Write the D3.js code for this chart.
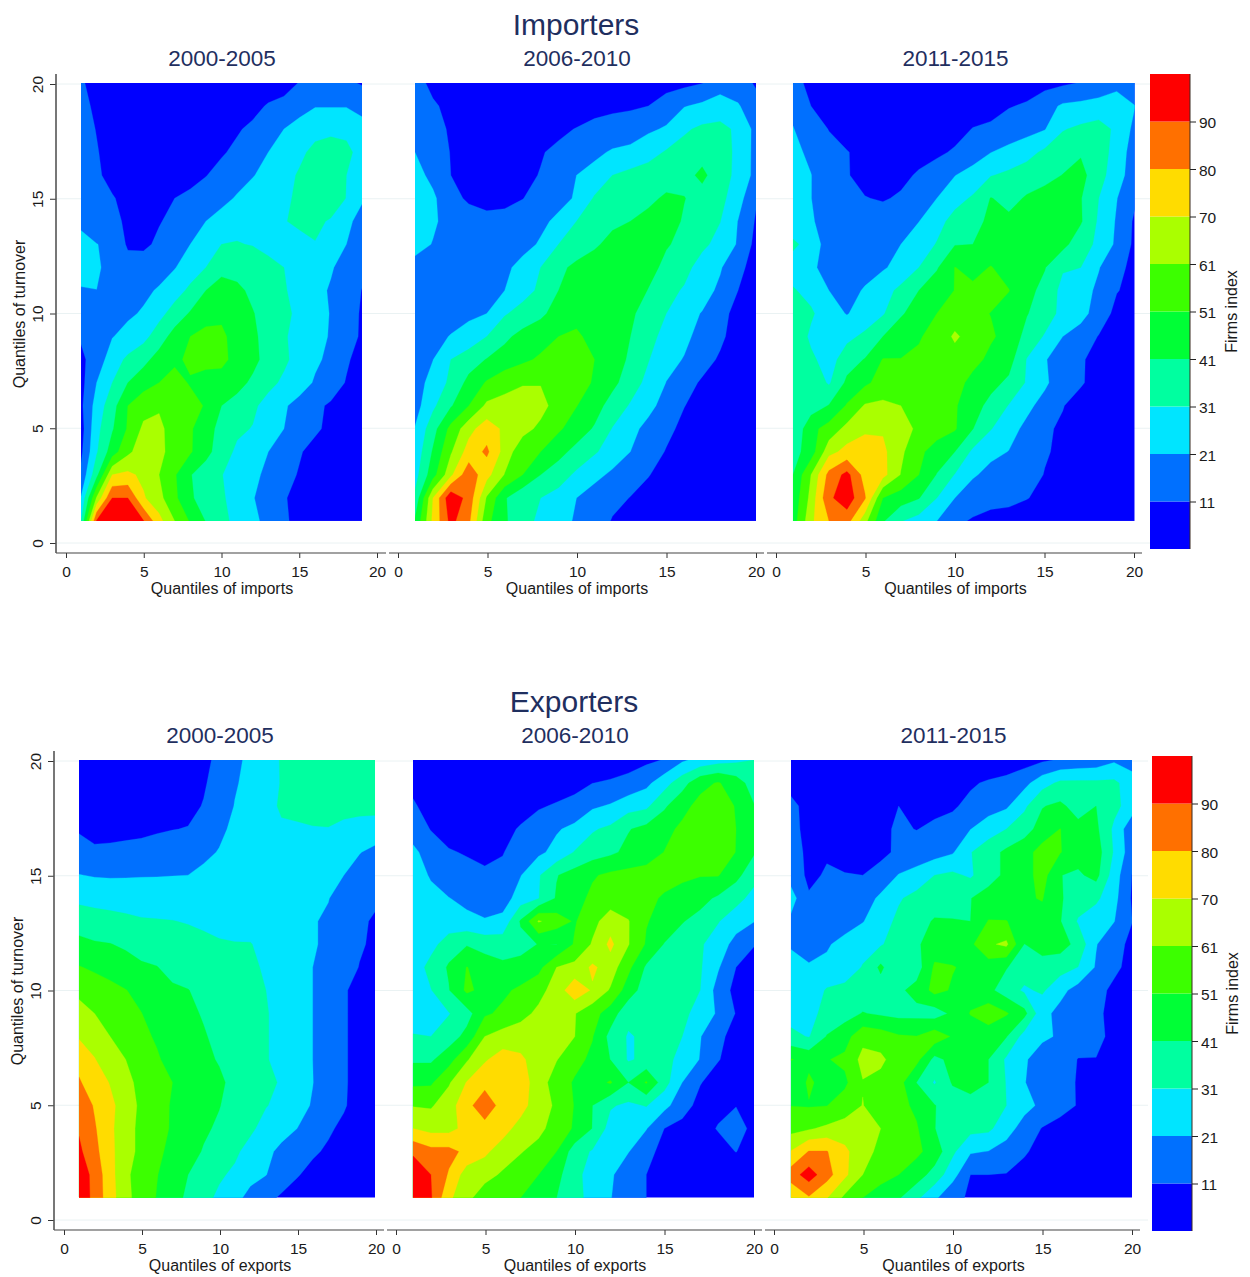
<!DOCTYPE html>
<html><head><meta charset="utf-8">
<style>html,body{margin:0;padding:0;background:#fff}svg{display:block}text{font-family:"Liberation Sans",Arial,sans-serif}</style>
<script src="https://cdn.jsdelivr.net/npm/d3@7"></script></head><body>
<script>
const levels=[11,21,31,41,51,61,70,80,90];
const bandColors=["#0000ff","#0070ff","#00e5ff","#00ffa0","#00ff36","#3cff00","#aaff00","#ffdc00","#ff7000","#ff0000"];
const periods=["2000-2005","2006-2010","2011-2015"];
const yTicks=[0,5,10,15,20], xTicks=[0,5,10,15,20];

// rows run from turnover quantile 20 (first) down to 1 (last); columns from quantile 1 upward
const imp0005=[
[12,8,5,5,5,5,5,5,5,5,5,5,5,7,11.5,14,14,13,10],
[14,9,6,5,5,5,5,5,5,6,7,8,12,14,17,20.5,20.5,20.5,19],
[14,10.7,8,6,5,5,5,6,7,8,10,13,17,21,25,28,28.5,29,23.3],
[15,11.5,8,7,6,6,6,7,8,10,13,18,21,25,29,33.5,36,33,28],
[16,12,9,8,7,6,7,8,10.7,14,17,20.5,24,28,32,35,36,31,26],
[18,14,11.5,9,8,8,11,13,15,18,22,25,28,29,33,36,37,30.7,22],
[19,16,12.5,10,9,10.5,13,16,21,25,28,28,29,30.5,32.8,33,30,23,18],
[24,21.2,19,9.6,9.4,12.5,15,21,26,31,31.5,30.5,28,27,28,30.6,27,21,16],
[24,23,16,15,15,17,20.5,26,31,37.5,37.5,37,34,31,27.5,25,22,17,13],
[20.4,20.9,17,16,19,22,27,33,41,46,43,39,36,32,27,24,20,15,10.8],
[15,17,18,19.5,22,28,35,42,47,49,47,41.5,37,34,28,23.5,20.7,15,10],
[12,14,20.6,24,28,36,45,51,54,53,47,43,37,32.5,26,23,20.5,14,10],
[9,15.5,26,33,38,45,49,53,54,54,47,44,37,33,27,22.5,19,12,8],
[8,21,31,41,47,51,55,50,47,46,44.5,39,34,29,25,20,15,10.5,7],
[9,25,37,51,57,60,60,55,50,41,37,33,27,22,18,12.5,10,7,6],
[7,28,40,52,63,63,57,52,46,37,33,30.5,25,21,16,12,9.5,7,5],
[9,30,46,59,66,63.5,57,52,44,36,29,26,21,17,11.5,9,7,6,5],
[13,38,70,72,68,61,52,41.5,36,31.5,25,23,19,13,10.5,8,7,6,5],
[21.5,62,90,90,71,64,53,42.5,36,32,28,21.5,17,11.5,9,7,6,5,5],
[30,91,96,96,90.5,73,61,50,40.5,33,29,23,18.5,12,9,7,6,5,5]];
const imp0610=[
[14,9,5,5,5,5,5,5,5,5,5,5,5,6,7,8.5,10.7,17,15,10],
[15,12,9,6,5,5,5,5,6,7,8,9,9.5,11,16,20.5,23,25,22,14],
[17,13,10.3,7,6,5,5,6,9.5,11.3,13.5,15,17,19.5,22,29.5,33,34,29,18],
[21,15,10.7,8,7,6,7,10.5,12.5,14,19,22,23,27,32,35,37.5,36,28.5,18],
[25,18,11,9,8.5,8,9.5,11.3,13,21,24,31,34,36,38,38,43,36,28,18],
[27,23,13,10,8,8.5,10.8,14,18,22,32,35,37.5,39.5,42,41.3,37.5,34,25,12],
[27,23,16,14,13.5,14,15,19,23,31,35,39,41,43,45,40,36.5,31.2,20.7,10],
[26,20.4,17,16,16,16.5,18,22,31,36,39.5,44,46,46,42,38,33,28,20,8],
[16,15,15,15,16,19,24,31,39,43,46,47,48,45,38,34,27,22,13,8],
[14,14,15,16,17,21,27,33,41,46,47,48,48,40.5,34,30,25,19,11,7],
[14,16,17,19,21,30,35,39,45,47,47,46,43,36,31,24.5,20.5,14,8,6],
[12,18,21.5,25,31,39,44,47,51,53,47,44,41,34,28,23,18,12.5,7.5,5],
[14,20.8,31,36,41.5,45,49,52.5,54,56,51,44,40,31.5,24,20.5,14,10,6.5,5],
[16,25,33,44,52,58,60.5,60.5,57,55,50,43.5,36,28,20.8,14,10,7,5,4],
[17,29,40,51,63,64,64,64,57,51.3,45,37,30,24,17,11.2,8,6,5,4],
[21.5,37,54,67,75,68,64,59,52.5,46,40,30.5,24,18,13,9,7,5,4,4],
[24,42,60,74,82,66,55,51,44,38,32,27,21,15,10.5,7,5,4,4,4],
[27,47,68,87,73,60.5,51,41,36,29,24,19,14,11.5,7,5,4,4,4,4],
[33,70,98,86,60,42,33,31,27,21,16,13,10.8,7,5,4,4,4,4,4],
[42,72,93,82,54,42,36,28,24,20,15,10.5,7,5,4,4,4,4,4,4]];
const imp1115=[
[15,8,6,5,5,5,5,5,5,5,5,5,6,7,8,9.5,11.5,14,17,13],
[18,11,7,6,5,5,5,5,5,6,7,8,10.5,12,17,22.5,23.5,25,28,21.3],
[21.5,14,10.8,8,6,6,6,6,7,8,11.3,12.5,15,17.5,20.5,30.3,33,35,29,18.5],
[23.5,19,13,11.3,9,8,8,8,9.5,12,15,20.8,24,27.5,33,37,40,36,27,16],
[24.5,21.2,15,11.5,8.5,8,9,12,15,20.7,25.5,30.5,33,36,38.5,41.2,44,35,25,16],
[24,21.2,14,13,11.3,10.3,12,15,21,28,32,41.4,38,42,44,46,41.5,31,21.3,12.5],
[24.5,22,17,16,15,15,17,20.8,28,34,38,43,43,46,48,47,42,29.5,20,9.5],
[33,27,16,16,16,17,21,26.5,31.5,40.5,41,44,49,50,47.5,44,35,29,19,9],
[26,23,17,15,15,20,24,31,40,51.2,48,51.5,47,45,41.5,32,31,21.5,14,8],
[32,27.5,21,15.5,22.5,27,33.5,41,47,51.2,53,55,51.3,44,38,28,25,19,11.5,8],
[33,32.5,25,20.5,25,30,40,45,51,56,54,50.7,47,41.5,36,28,24,17,8,5],
[39,29,24,28.5,33,41,46,50,55,62.5,57,52.5,47,38,30,21,17,10.5,7,5],
[38,33,26.5,36.5,41.5,51.5,51.3,53,57,57,55,48,45,30.5,22,14,12,8,6,5],
[36,38,29.8,43,49,55,56,58,57,56,47,44,39,30,22.5,16,11.8,8,6,5],
[31.5,36,41.5,52,62,63,61,57,56,52,45,38,30.5,23,18,11.3,8,6,5,4],
[32,48,55,64,68,69,67,58,55,52,41.2,31.5,24,19,12,10,7,6,5,4],
[37,46,67,73,76,72,63,53,47,41,29,23,20.8,15,11.7,9.5,7,6,5,4],
[41,61,83,93,76,73,60.5,51,40.5,30.5,22,18.5,16,14,10.7,8,6,5,5,4],
[44,64,88,96,81,51,46,41.5,31,21,16,14,13,11.3,9,6,5,5,4,4],
[46,68,80,84,64,42,31.5,27,21,13,10,8,8,7,6,5,5,4,4,4]];
const exp0005=[
[5,5,5,5,5,5,5,5,9.5,12.5,18,24,28,31.5,33,34,34,34,34,34],
[5,5,5,5,5,5,6,7,10.2,14,20,24,28,31.4,33,34,34,34,34,34],
[6,6,6,6,6,7,8,9,11.4,15,21.4,25,28.5,32,33,34,33,33,33,33],
[10.5,9.5,9.5,9,9,10,10.8,11.3,13,19,23,26,29,30,30,30.5,30.8,29.5,28.5,28],
[13,11.8,12,13,14,15,15.5,17,19,21.5,24,25.5,26.5,27,27,26.5,26,24,21.5,18],
[21.3,20.3,20,20.2,20.5,20.6,20.8,21,23,24,24.5,24.5,24.5,24.5,24.5,24,23,21,16.5,14],
[29,28,27.5,27,26,26,26,25.5,25,25,24.5,24,24,24,23.5,23,21.5,15,13,12],
[36,35,34,33,32,31.6,31.2,30.5,29.5,28,27,26,25,24,23,22,19,15,12,10.3],
[44,42,41.3,39.5,37,36,35,34,33,32,31.5,31.5,27.5,25,23.5,22.5,18,15,12,9.5],
[51.5,49.5,47,45,42.5,41.3,38,36,34.5,34,33,34,29,25,22.5,21,17,15,10.7,8],
[59,56,54,51.3,48,44.5,42.5,41.3,38,36,35,33.5,31,26,23,21,16.5,12,8,7],
[64,61,57,54,51.2,47,45,43.5,40,37,35.5,34,32,26.5,23,21,16,12,8,7],
[69,65,61,57,53,50,46.5,44.5,42,38,36,34,32,26.5,23,21,16,12,8,7],
[77,70.5,64,61,54,52,48,45,43,40.3,37,35,32,26.5,23,21,16,12,8,7],
[81,75,69.5,64,58,53,51,47,45,42.6,38.5,35.5,33.5,30,25,21.2,16,12,8,7],
[87,79,72,66,59,53,50.5,46,43,41.5,36,33.5,31.5,28,24,20.3,15,11.7,8,6],
[89,81,72,64,59,52,50.7,46,43,39,35,33,27,24,21,15,12,9.5,7,6],
[92,83,72.5,64,59,53,48.5,46,40,36,33,27,23,19,15,12,10,8,6,5],
[96,87,73,63.5,55,51.4,46,41,35,32.5,29,24,21.3,15,11.5,9,8,7,6,5],
[97,87,74,63.5,57,50.5,45,39,34,29,24,18,13,10,8,7,6,5,5,5]];
const exp0610=[
[5,5,5,5,5,5,5,5,5,5,5,6,7,9,11.5,19.5,24,27,29,31],
[9,6,5,5,5,5,5,5,6,8,10.9,12,14,18.5,27,37,48,51.8,46,36],
[12,8,6,6,6,6,7,10,12,14,19.5,22,27,29,39.5,48,54,55,50.5,41.5],
[15,10.7,8.5,6,6,8,12,16,20,23.5,30,33,40.4,44,48,53,56,57,51,42],
[24,15,11.5,10.5,9.5,10.8,13,19,24,31.5,36,39,43.5,46,51.2,55,58,58,50.7,42],
[26,20,14,13,12,12,20.6,30,40.5,45,50,53,54,55,54,52,51.5,51.5,44,34],
[25,24,21.3,18,15,16,26,30.7,42,47.5,53,56,55,53,50,49,44,39.5,34,28],
[25,23,24,24,22,24,42,62,56,50,58,66,61.5,51.5,48,41.5,38,31.5,26,21.3],
[24,27,37,40.2,37,36.5,38,41.3,40.8,52,62,72,61.5,50,40.5,37,32,27,17,11.5],
[24,35,42,51.3,46.5,43,44,48,61,64,71.5,66,53.5,39.5,36,34,32,22,11,7],
[24,30.5,40.5,53,48,49,53,58,65,76,69,60,46,36,34,33,31,17,8,6],
[23,24,30.5,37,49.5,53,58,63,66,61.5,55,46,34,33,33,33,28,19.5,10.5,6],
[32,31,36,44,61,65,66,67,68,61.2,51.5,38,30,33,33.5,31,21.5,13,8,6],
[39.5,39.5,47,60,69,74,71.5,66,61.5,54,49,40.8,30,33,33,29,20.5,11.5,7,5],
[49,49.5,60,70.5,76,76,74,66,56,50,47,52,41,52,35,21,11.5,7,5,4],
[60.5,60,66,76,88,75,74,64,60,50.5,41,32,29,31.5,24,15,8,9,10.8,6],
[70,67,67,73,75,74,66,64,56,50,40.7,27,23,21.5,11,8,8,11.5,14,9],
[88,83,83,77.5,72,65,61.7,57,51,36,30,24,21.5,13,9,6,6,8,11.2,7],
[99,90,79,65,63.5,60,55,51,44,34,27,23,13,11,8,5,4,4,4,4],
[100,91,72,63,57,54,51,46,41,33,29,21.5,14,11,8,5,4,4,4,4]];
const exp1115=[
[5,5,5,5,5,5,5,5,5,5,5,5,5,7,9.5,12,14,15,19.5,16],
[9,5,5,5,5,5,5,5,5,7,10,12,14,18,27,33,33,33,33,26],
[12.5,9,5,6,6,7,11,9,9,10,13,17,19.5,29,40.5,43,37,41,34,26],
[13,9,6,6,7,9.5,12,10.8,12.5,14,20.8,26,31,37,45,51.2,44,43,29,14],
[13,10,10,7,7,9,12.5,14.5,16.5,20,30.5,37,43,47,55,51.5,45,46,30,15],
[17,9,12,11.5,11,14,21.5,25,31,33,29.5,38,42.5,47,55,41.2,39.5,44,26,10.8],
[25,12,13,15,16,23,30,34,35.5,37,40.8,44,46,50,51.5,42,36,33,24,10],
[19,15,15,17,20.5,27,33,37,42,41.5,41,51.5,51.2,48,48,41.5,30,25,21.3,11.2],
[19.5,17,20,24,28,30,36,39.5,46,46,49,59.5,63,40.8,45,45,38,21.5,14,9],
[26,22,23,26,31.5,43,31.5,36,52.5,51.5,49,46,41.5,36,37,35,30.8,20,13,8],
[23,24.5,32,33.5,34,36,39,44.5,54,50,47.5,43.5,36,29.5,32.5,24,17,14,9,6],
[27,27,35,37,41.5,39.5,38,38,36,43,51.5,57,52,44,24,18,13,13,8,5],
[33.5,30.4,41.5,47,58,56,52,51.2,57,50,45,45,41.5,27,22.5,20,14,13,9,5],
[51.5,48,50.5,53,64,63,56,54,38,44,44,41,29.5,22,17,14,10.8,10.8,6,5],
[41,53,46,49,60.5,58,55,40.8,30,42,46,41,30.5,21.5,15,13,10.6,7,5,4],
[50.8,50.3,50.8,56,61.3,56,54,49,41.5,35,36,35,31,24,19,14,10.5,6,5,4],
[58,60,63,65,66,61,56,52,41.3,34,34,33,25,17,10.5,8,6,5,5,4],
[70.5,80.5,80.5,72,64,59,54,53,47,33,22,20.7,17,11.5,9.5,7,6,5,5,4],
[85,95,84,72,61,54,51,46,37,25,11,11,10.6,9.5,8,6,5,5,4,4],
[71,79,70.5,59,51,47,42,33,23,13,10,8,7,7,6,5,5,4,4,4]];

const groups=[
 {title:"Importers",titleX:576,titleY:35,subY:66,xLabel:"Quantiles of imports",grids:[imp0005,imp0610,imp1115],
  y0:543,y20:84,plotY0:544,plotY20:83,axisX:56,axisTop:74,axisBottom:553,yTitleX:25,yTitleY:314,
  panels:[{x0:66,x20:377,px0:65.4,px20:377.6,sub:222,ax:[56,386]},{x0:398,x20:756,px0:397,px20:756,sub:577,ax:[389,764]},{x0:776,x20:1134,px0:775,px20:1134.7,sub:955.5,ax:[767,1142]}],
  bar:{x:1150,w:40,top:74,bottom:549,titleX:1237}},
 {title:"Exporters",titleX:574,titleY:712,subY:743,xLabel:"Quantiles of exports",grids:[exp0005,exp0610,exp1115],
  y0:1220,y20:761,plotY0:1220.7,plotY20:760,axisX:54,axisTop:751,axisBottom:1230,yTitleX:23,yTitleY:991,
  panels:[{x0:64,x20:376,px0:63.4,px20:375,sub:220,ax:[54,384]},{x0:396,x20:754,px0:395,px20:754,sub:575,ax:[387,762]},{x0:774,x20:1132,px0:773,px20:1132,sub:953.5,ax:[765,1140]}],
  bar:{x:1152,w:40,top:756,bottom:1231,titleX:1238}}
];
const navy="#1f2f5f", ink="#1a1a1a";
const svg=d3.select("body").append("svg").attr("width",1250).attr("height",1277);
svg.append("rect").attr("width",1250).attr("height",1277).attr("fill","#fff");
const defs=svg.append("defs");
let clipId=0;

groups.forEach(g=>{
  const y=d3.scaleLinear().domain([0,20]).range([g.y0,g.y20]);
  const py=d3.scaleLinear().domain([0,20]).range([g.plotY0,g.plotY20]);
  svg.append("g").selectAll("line").data(yTicks).join("line")
    .attr("x1",g.axisX).attr("x2",g.panels[2].ax[1]+8).attr("y1",d=>y(d)).attr("y2",d=>y(d))
    .attr("stroke","#eaf2f3").attr("stroke-width",1);
  svg.append("text").attr("x",g.titleX).attr("y",g.titleY).attr("text-anchor","middle")
    .attr("font-size",30).attr("fill",navy).text(g.title);

  g.panels.forEach((p,i)=>{
    const x=d3.scaleLinear().domain([0,20]).range([p.x0,p.x20]);
    const px=d3.scaleLinear().domain([0,20]).range([p.px0,p.px20]);
    const grid=g.grids[i], nx=grid[0].length, ny=grid.length;
    const id="clip"+(clipId++);
    defs.append("clipPath").attr("id",id).append("rect")
      .attr("x",px(1)).attr("y",py(ny)).attr("width",px(nx)-px(1)).attr("height",py(1)-py(ny));
    const plot=svg.append("g").attr("clip-path",`url(#${id})`);
    plot.append("rect").attr("x",px(1)).attr("y",py(ny)).attr("width",px(nx)-px(1)).attr("height",py(1)-py(ny)).attr("fill",bandColors[0]);
    const contours=d3.contours().size([nx,ny]).thresholds(levels)(grid.flat());
    const path=d3.geoPath(d3.geoTransform({point(cx,cy){this.stream.point(px(cx+0.5),py(ny+0.5-cy));}}));
    plot.selectAll("path").data(contours).join("path")
      .attr("d",path).attr("fill",(d,k)=>bandColors[k+1]).attr("stroke",(d,k)=>bandColors[k+1]).attr("stroke-width",0.3);

    const ax=svg.append("g").attr("transform",`translate(0,${g.axisBottom})`)
      .call(d3.axisBottom(x).tickValues(xTicks).tickSize(5).tickPadding(8).tickFormat(d3.format("d")));
    ax.select(".domain").remove();
    ax.selectAll("line").attr("stroke","#333");
    ax.selectAll("text").attr("font-size",15.5).attr("fill",ink).attr("font-family",'"Liberation Sans",Arial,sans-serif');
    svg.append("line").attr("x1",p.ax[0]).attr("x2",p.ax[1]).attr("y1",g.axisBottom).attr("y2",g.axisBottom).attr("stroke","#444").attr("stroke-width",1.2);
    svg.append("text").attr("x",p.sub).attr("y",g.axisBottom+41).attr("text-anchor","middle").attr("font-size",16).attr("fill",ink).text(g.xLabel);
    svg.append("text").attr("x",p.sub).attr("y",g.subY).attr("text-anchor","middle").attr("font-size",22.5).attr("fill",navy).text(periods[i]);
  });

  const ay=svg.append("g").attr("transform",`translate(${g.axisX},0)`)
    .call(d3.axisLeft(y).tickValues(yTicks).tickSize(6).tickFormat(d3.format("d")));
  ay.select(".domain").remove();
  ay.selectAll("line").attr("stroke","#333");
  ay.selectAll("text").attr("font-size",15.5).attr("fill",ink).attr("font-family",'"Liberation Sans",Arial,sans-serif')
    .attr("text-anchor","middle").attr("dy",null).attr("x",null).attr("y",null)
    .attr("transform","translate(-13,0) rotate(-90)");
  svg.append("line").attr("x1",g.axisX).attr("x2",g.axisX).attr("y1",g.axisTop).attr("y2",g.axisBottom).attr("stroke","#555").attr("stroke-width",1.6);
  svg.append("text").attr("transform",`translate(${g.yTitleX},${g.yTitleY}) rotate(-90)`).attr("text-anchor","middle").attr("font-size",16).attr("fill",ink).text("Quantiles of turnover");

  const b=g.bar;
  const bar=d3.scaleLinear().domain([0,10]).range([b.bottom,b.top]);
  svg.append("g").selectAll("rect").data(bandColors).join("rect")
    .attr("x",b.x).attr("width",b.w).attr("y",(d,k)=>bar(k+1)).attr("height",(d,k)=>bar(k)-bar(k+1)).attr("fill",d=>d);
  svg.append("line").attr("x1",b.x+b.w).attr("x2",b.x+b.w).attr("y1",b.top).attr("y2",b.bottom).attr("stroke","#3a2a20").attr("stroke-width",1);
  const barAxis=d3.scaleOrdinal().domain(levels).range(levels.map((d,k)=>bar(k+1)));
  const ba=svg.append("g").attr("transform",`translate(${b.x+b.w},0)`)
    .call(d3.axisRight(barAxis).tickValues(levels).tickSize(6).tickPadding(3));
  ba.select(".domain").remove();
  ba.selectAll("line").attr("stroke","#222");
  ba.selectAll("text").attr("font-size",15.5).attr("dy","0.4em").attr("fill",ink).attr("font-family",'"Liberation Sans",Arial,sans-serif');
  svg.append("text").attr("transform",`translate(${b.titleX},${(b.top+b.bottom)/2}) rotate(-90)`).attr("text-anchor","middle").attr("font-size",16).attr("fill",ink).text("Firms index");
});
</script></body></html>
